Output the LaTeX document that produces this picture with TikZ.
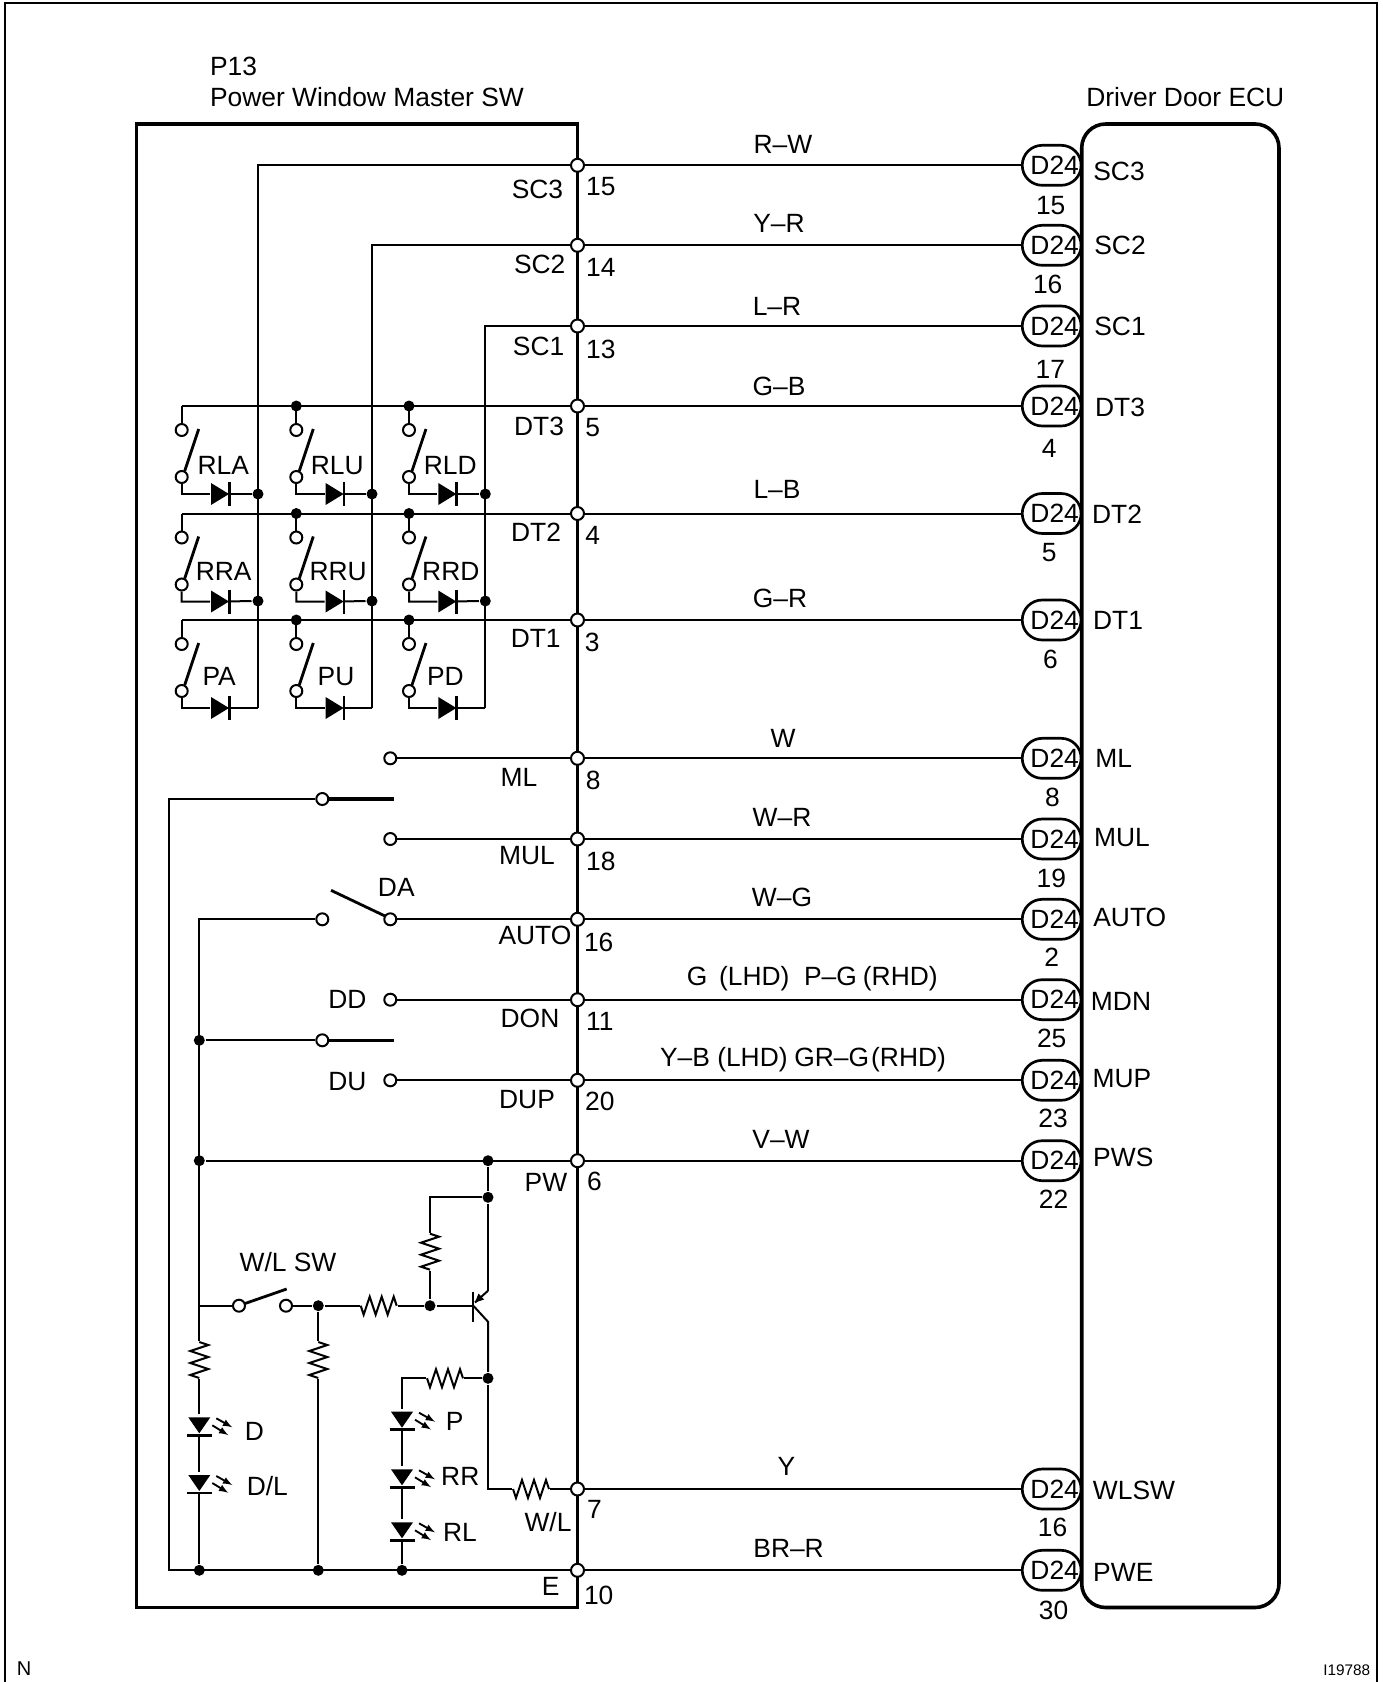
\documentclass[tikz,border=0pt]{standalone}
\usepackage{fontspec}
\setmainfont{Liberation Sans}
\usetikzlibrary{arrows,shapes.misc,positioning}
\newcommand{\myunit}{0.75pt}
\tikzset{
    labsty/.style={anchor=base,inner sep=0pt,font=\fontsize{19.8}{24}\selectfont},
    nsty/.style={anchor=base,inner sep=0pt,font=\fontsize{15}{18}\selectfont},
    idsty/.style={anchor=base,inner sep=0pt,font=\fontsize{11.5}{14}\selectfont},
    pinsty/.style={draw,fill=white,circle,inner sep=0pt,minimum size=13*\myunit},
    termsty/.style={draw,fill=white,circle,inner sep=0pt,minimum size=12*\myunit},
    dotsty/.style={fill=black,circle,inner sep=0pt,minimum size=11*\myunit},
    consty/.style={draw,rounded rectangle,line width=2pt,inner sep=0pt,minimum width=58*\myunit,minimum height=40*\myunit,
                   font=\fontsize{19.8}{24}\selectfont,execute at begin node={\hspace{4.5pt}}},
    diodesty/.style={rectangle,inner sep=0pt,minimum width=18*\myunit,minimum height=22*\myunit},
    ledsty/.style={rectangle,inner sep=0pt,minimum width=22*\myunit,minimum height=20*\myunit},
    reshsty/.style={rectangle,inner sep=0pt,minimum width=36*\myunit,minimum height=20*\myunit},
    resvsty/.style={rectangle,inner sep=0pt,minimum width=20*\myunit,minimum height=36*\myunit},
    bladesty/.style={line width=2.1pt},
    boxsty/.style={line width=2.7pt},
    pics/diodepic/.style={code={
      \fill (-9,-11) -- (9,0) -- (-9,11) -- cycle;
      \draw[line width=2pt] (9.5,-12) -- (9.5,12);
    }},
    pics/ledpic/.style={code={
      \fill (-11,-8) -- (11,-8) -- (0,8) -- cycle;
      \draw[line width=2.2pt] (-12.5,10) -- (12.5,10);
      \draw[->,line width=1.4pt] (17,-7) -- (33,2);
      \draw[->,line width=1.4pt] (13,0) -- (29,9.8);
    }},
    pics/reshpic/.style={code={
      \draw (-18,0) -- (-15,9) -- (-9,-9) -- (-3,9) -- (3,-9) -- (9,9) -- (15,-9) -- (18,0);
    }},
    pics/resvpic/.style={code={
      \draw (0,-18) -- (9,-15) -- (-9,-9) -- (9,-3) -- (-9,3) -- (9,9) -- (-9,15) -- (0,18);
    }},
}
% id, y, colour, colour x, colour baseline
\newcommand{\sigrow}[5]{%
  \node[pinsty] (p#1) at (577.5,#2) {};
  \node[consty] (c#1) at (1051.7,#2) {D24};
  \draw (p#1) -- (c#1);
  \node[labsty] (w#1) at (#4,#5) {#3};
}
% name, x, y of the line, bus junction, text, text x, text baseline
\newcommand{\keysw}[7]{%
  \begin{scope}[shift={(#2,#3)}]
    \coordinate (#1t) at (0,0);
    \node[termsty] (#1a) at (0,24) {};
    \node[termsty] (#1b) at (0,71) {};
    \coordinate (#1c) at (0,88);
    \node[diodesty] (#1d) at (38.3,88) {};
    \pic at (#1d) {diodepic};
    \draw[bladesty] (3,65) -- (17,23);
  \end{scope}
  \draw (#1t) -- (#1a);
  \draw (#1b) -- (#1c) -- (#1d) -- (#4);
  \node[labsty] (l#1) at (#6,#7) {#5};
}

\begin{document}
\begin{tikzpicture}[>=latex,x=\myunit,y=-\myunit,line width=1.5pt]
  \useasboundingbox (0,0) rectangle (1383,1682);
  \draw[line width=2.2pt] (5,1682) -- (5,3) -- (1377,3) -- (1377,1682);
  \draw[boxsty] (136.5,124) rectangle (577.5,1607.5);
  \draw[boxsty,rounded corners=24*\myunit] (1081.7,124) rectangle (1279,1607.5);

  \node[labsty,anchor=base west] (ttlA) at (209,75) {P13};
  \node[labsty,anchor=base west] (ttlB) at (209,106) {Power Window Master SW};
  \node[labsty] (ttlC) at (1185.3,106.5) {Driver Door ECU};
  \node[nsty] (ttlN) at (24,1675) {N};
  \node[idsty] (ttlI) at (1346.7,1675) {I19788};

  \sigrow{SC3}{165.3}{R--W}{783}{153.5}
  \sigrow{SC2}{245.3}{Y--R}{779}{232.7}
  \sigrow{SC1}{326}{L--R}{777}{315.3}
  \sigrow{DT3}{406}{G--B}{779}{395.7}
  \sigrow{DT2}{513.5}{L--B}{777}{498.7}
  \sigrow{DT1}{620}{G--R}{780}{607}
  \sigrow{ML}{758.3}{W}{783}{747.6}
  \sigrow{MUL}{839}{W--R}{782}{826}
  \sigrow{AUTO}{919.3}{W--G}{782}{906.5}
  \sigrow{MDN}{999.7}{G\hspace{8.7pt}(LHD)\hspace{11pt}P--G\hspace{4.5pt}(RHD)}{812.3}{985}
  \sigrow{MUP}{1080.3}{Y--B\hspace{5.5pt}(LHD)\hspace{5pt}GR--G\hspace{1.5pt}(RHD)}{803}{1066.7}
  \sigrow{PWS}{1160.7}{V--W}{781}{1148}
  \sigrow{WLSW}{1489}{Y}{786.4}{1475}
  \sigrow{PWE}{1570.3}{BR--R}{788.6}{1557.7}

  % names on the switch side, pin numbers
  \node[labsty] (lSC3) at (537.5,198.3) {SC3};    \node[labsty] (nSC3) at (600.8,195) {15};
  \node[labsty] (lSC2) at (539.7,273.5) {SC2};    \node[labsty] (nSC2) at (600.8,276.7) {14};
  \node[labsty] (lSC1) at (538.6,355) {SC1};      \node[labsty] (nSC1) at (600.8,358) {13};
  \node[labsty] (lDT3) at (539,435) {DT3};        \node[labsty] (nDT3) at (592.7,436) {5};
  \node[labsty] (lDT2) at (536,541.7) {DT2};      \node[labsty] (nDT2) at (592.7,544) {4};
  \node[labsty] (lDT1) at (535.7,647.7) {DT1};    \node[labsty] (nDT1) at (592.3,651.7) {3};
  \node[labsty] (lML) at (519,786.5) {ML};        \node[labsty] (nML) at (593.3,789) {8};
  \node[labsty] (lMUL) at (527,864.3) {MUL};      \node[labsty] (nMUL) at (600.8,870) {18};
  \node[labsty] (lAUTO) at (535,944.3) {AUTO};    \node[labsty] (nAUTO) at (598.7,951) {16};
  \node[labsty] (lMDN) at (530,1027.3) {DON};     \node[labsty] (nMDN) at (599.8,1030.5) {11};
  \node[labsty] (lMUP) at (527,1108) {DUP};       \node[labsty] (nMUP) at (599.8,1110) {20};
  \node[labsty] (lPWS) at (546,1191.7) {PW};      \node[labsty] (nPWS) at (594.4,1190) {6};
  \node[labsty] (lWLSW) at (548,1531) {W/L};      \node[labsty] (nWLSW) at (594.4,1518) {7};
  \node[labsty] (lPWE) at (550.7,1595.7) {E};     \node[labsty] (nPWE) at (598.7,1604) {10};

  % names and numbers on the ECU side
  \node[labsty] (eSC3) at (1119,180) {SC3};       \node[labsty] (mSC3) at (1050.7,214.3) {15};
  \node[labsty] (eSC2) at (1120,254.5) {SC2};     \node[labsty] (mSC2) at (1047.7,293) {16};
  \node[labsty] (eSC1) at (1120,335.7) {SC1};     \node[labsty] (mSC1) at (1050.4,378.6) {17};
  \node[labsty] (eDT3) at (1120,416) {DT3};       \node[labsty] (mDT3) at (1049.3,457.5) {4};
  \node[labsty] (eDT2) at (1117,523.5) {DT2};     \node[labsty] (mDT2) at (1049.3,561) {5};
  \node[labsty] (eDT1) at (1118,629.7) {DT1};     \node[labsty] (mDT1) at (1050.4,668) {6};
  \node[labsty] (eML) at (1113.7,767) {ML};       \node[labsty] (mML) at (1052.5,806.7) {8};
  \node[labsty] (eMUL) at (1122,846.5) {MUL};     \node[labsty] (mMUL) at (1051.4,887) {19};
  \node[labsty] (eAUTO) at (1129.8,926) {AUTO};   \node[labsty] (mAUTO) at (1051.7,966) {2};
  \node[labsty] (eMDN) at (1121,1010.5) {MDN};    \node[labsty] (mMDN) at (1051.7,1047.5) {25};
  \node[labsty] (eMUP) at (1122,1087.8) {MUP};    \node[labsty] (mMUP) at (1053,1127.5) {23};
  \node[labsty] (ePWS) at (1123.3,1166) {PWS};    \node[labsty] (mPWS) at (1053.6,1208) {22};
  \node[labsty] (eWLSW) at (1134,1499.8) {WLSW};  \node[labsty] (mWLSW) at (1052.5,1536) {16};
  \node[labsty] (ePWE) at (1123.3,1581) {PWE};    \node[labsty] (mPWE) at (1053.6,1619) {30};

  % switch matrix
  \node[dotsty] (jA1) at (258,494) {};   \node[dotsty] (jA2) at (258,601) {};   \coordinate (jA3) at (258,708);
  \node[dotsty] (jB1) at (372,494) {};   \node[dotsty] (jB2) at (372,601) {};   \coordinate (jB3) at (372,708);
  \node[dotsty] (jC1) at (485.3,494) {}; \node[dotsty] (jC2) at (485.3,601) {}; \coordinate (jC3) at (485.3,708);
  \draw (pSC3) -| (jA3);
  \draw (pSC2) -| (jB3);
  \draw (pSC1) -| (jC3);
  \keysw{rla}{181.7}{406}{jA1}{RLA}{223.3}{474}
  \keysw{rlu}{296.3}{406}{jB1}{RLU}{337.3}{474}
  \keysw{rld}{409}{406}{jC1}{RLD}{450.3}{474}
  \keysw{rra}{181.7}{513.5}{jA2}{RRA}{223.7}{580}
  \keysw{rru}{296.3}{513.5}{jB2}{RRU}{338.2}{580}
  \keysw{rrd}{409}{513.5}{jC2}{RRD}{450.8}{580}
  \keysw{pa}{181.7}{620}{jA3}{PA}{219.2}{685}
  \keysw{pu}{296.3}{620}{jB3}{PU}{336}{685}
  \keysw{pd}{409}{620}{jC3}{PD}{445.4}{685}
  \draw (pDT3) -- (rlat);
  \draw (pDT2) -- (rrat);
  \draw (pDT1) -- (pat);
  \node[dotsty] (jD1) at (296.3,406) {};   \node[dotsty] (jD2) at (409,406) {};
  \node[dotsty] (jE1) at (296.3,513.5) {}; \node[dotsty] (jE2) at (409,513.5) {};
  \node[dotsty] (jF1) at (296.3,620) {};   \node[dotsty] (jF2) at (409,620) {};

  % mode switches
  \node[termsty] (tML) at (390.3,758.3) {};
  \node[termsty] (tMC) at (322.3,799) {};
  \coordinate (bMC) at (394.3,799);
  \node[termsty] (tMUL) at (390.3,839) {};
  \node[termsty] (tDAa) at (322.3,919.3) {};
  \node[termsty] (tDAb) at (390.3,919.3) {};
  \coordinate (bDAa) at (331,890.3);
  \coordinate (bDAb) at (385,916);
  \node[termsty] (tDD) at (390.3,999.7) {};
  \node[termsty] (tDC) at (322.3,1040.3) {};
  \coordinate (bDC) at (394.3,1040.3);
  \node[termsty] (tDU) at (390.3,1080.3) {};
  \node[labsty] (lDA) at (396.3,896.7) {DA};
  \node[labsty] (lDD) at (347.5,1008.3) {DD};
  \node[labsty] (lDU) at (347.5,1090) {DU};
  \draw (tML) -- (pML);
  \draw (tMUL) -- (pMUL);
  \draw (tDAb) -- (pAUTO);
  \draw (tDD) -- (pMDN);
  \draw (tDU) -- (pMUP);
  \draw[line width=2.7pt] (tMC) -- (bMC);
  \draw[line width=2.7pt] (tDC) -- (bDC);
  \draw[bladesty] (bDAa) -- (bDAb);

  % lamp and transistor part
  \node[dotsty] (dL1) at (199.3,1040.3) {};
  \node[dotsty] (dL2) at (199.3,1160.7) {};
  \node[dotsty] (dP2) at (488,1160.7) {};
  \node[dotsty] (dP3) at (488,1197.3) {};
  \node[dotsty] (dB) at (430,1305.7) {};
  \node[dotsty] (dW) at (318.3,1305.7) {};
  \node[dotsty] (dC) at (488,1378.3) {};
  \node[dotsty] (dE1) at (199.3,1570.3) {};
  \node[dotsty] (dE2) at (318.3,1570.3) {};
  \node[dotsty] (dE3) at (402,1570.3) {};
  \coordinate (gnd) at (168.7,1570.3);
  \node[termsty] (tWa) at (239,1305.7) {};
  \node[termsty] (tWb) at (286,1305.7) {};
  \coordinate (bWa) at (245,1303.5);
  \coordinate (bWb) at (286.7,1289);
  \coordinate (wjn) at (199.3,1305.7);
  \node[resvsty] (rD) at (199.3,1360) {};      \pic at (rD) {resvpic};
  \node[resvsty] (rW) at (318.3,1360) {};      \pic at (rW) {resvpic};
  \node[resvsty] (rU) at (430,1251.7) {};      \pic at (rU) {resvpic};
  \node[reshsty] (rB) at (378.7,1305.7) {};    \pic at (rB) {reshpic};
  \node[reshsty] (rP) at (445,1378.3) {};      \pic at (rP) {reshpic};
  \node[reshsty] (rO) at (531,1489) {};        \pic at (rO) {reshpic};
  \node[ledsty] (ledD) at (199.3,1425.3) {};   \pic at (ledD) {ledpic};
  \node[ledsty] (ledDL) at (199.3,1483) {};    \pic at (ledDL) {ledpic};
  \node[ledsty] (ledP) at (402,1419.7) {};     \pic at (ledP) {ledpic};
  \node[ledsty] (ledRR) at (402,1477.3) {};    \pic at (ledRR) {ledpic};
  \node[ledsty] (ledRL) at (402,1530.3) {};    \pic at (ledRL) {ledpic};
  \coordinate (qb) at (473.3,1305.7);
  \coordinate (qt) at (473.3,1291.7);
  \coordinate (qm) at (473.3,1321.5);
  \coordinate (qe) at (488,1290.7);
  \coordinate (qc) at (488,1321.7);
  \coordinate (qa) at (475,1302.5);
  \coordinate (qh) at (478.5,1293.5);
  \coordinate (qi) at (484,1299.5);
  \node[labsty] (lWL) at (288,1271.7) {W/L SW};
  \node[labsty] (lD) at (254.3,1440.7) {D};
  \node[labsty] (lDL) at (267.3,1495) {D/L};
  \node[labsty] (lP) at (454.7,1430.7) {P};
  \node[labsty] (lRR) at (460.3,1485) {RR};
  \node[labsty] (lRL) at (460,1541.7) {RL};
  \draw (pPWE) -- (gnd) |- (tMC);
  \draw (tDAa) -| (rD);
  \draw (rD) -- (ledD) -- (ledDL) -- (dE1);
  \draw (dL1) -- (tDC);
  \draw (pPWS) -- (dL2);
  \draw (wjn) -- (tWa);
  \draw[bladesty] (bWa) -- (bWb);
  \draw (tWb) -- (dW) -- (rB) -- (dB) -- (qb);
  \draw (dW) -- (rW) -- (dE2);
  \draw (dP3) -| (rU);
  \draw (rU) -- (dB);
  \draw (dP2) -- (dP3) -- (qe);
  \draw (qt) -- (qm);
  \draw (qe) -- (qa);
  \fill (qa) -- (qh) -- (qi) -- cycle;
  \draw (qb) -- (qc) -- (dC);
  \draw (dC) -- (rP) -| (ledP);
  \draw (ledP) -- (ledRR) -- (ledRL) -- (dE3);
  \draw (dC) |- (rO) -- (pWLSW);
\end{tikzpicture}
\end{document}
